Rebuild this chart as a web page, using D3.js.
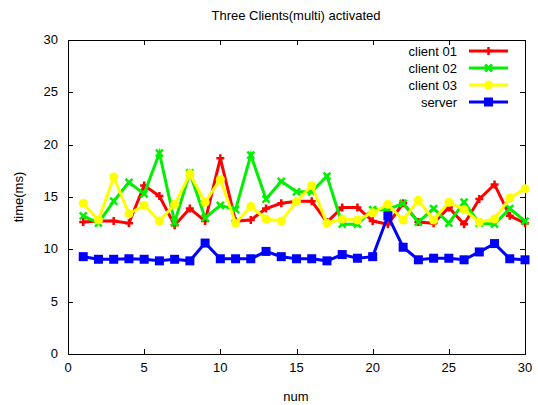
<!DOCTYPE html>
<html>
<head>
<meta charset="utf-8">
<script src="https://cdn.jsdelivr.net/npm/d3@7"></script>
<style>
  body { margin: 0; background: #fff; }
  text { font-family: "Liberation Sans", Arial, sans-serif; font-size: 13px; fill: #000; }
</style>
</head>
<body>
<svg id="chart" width="538" height="405"></svg>
<script>
// Values
const nums = d3.range(1, 31);
const client01 = [12.6, 12.7, 12.7, 12.5, 16.1, 15.1, 12.3, 13.9, 12.7, 18.7,
                  12.7, 12.8, 13.9, 14.4, 14.6, 14.6, 12.6, 14.0, 14.0, 12.7,
                  12.4, 14.4, 12.6, 12.5, 14.0, 12.4, 14.8, 16.2, 13.2, 12.5];
const client02 = [13.2, 12.5, 14.6, 16.4, 15.3, 19.2, 12.6, 17.3, 13.0, 14.2,
                  13.8, 19.0, 14.8, 16.5, 15.5, 15.5, 17.0, 12.4, 12.4, 13.8,
                  13.8, 14.4, 12.6, 13.9, 12.5, 14.5, 12.5, 12.4, 13.9, 12.7];
const client03 = [14.4, 12.8, 16.9, 13.4, 14.2, 12.7, 14.3, 17.2, 14.5, 16.7,
                  12.5, 14.1, 12.9, 12.7, 14.6, 16.1, 12.5, 12.9, 12.8, 13.5,
                  14.3, 12.8, 14.7, 12.8, 14.5, 13.8, 12.6, 12.9, 14.9, 15.8];
const server   = [9.3, 9.05, 9.05, 9.1, 9.05, 8.9, 9.05, 8.9, 10.6, 9.1,
                  9.1, 9.1, 9.8, 9.3, 9.1, 9.1, 8.9, 9.5, 9.15, 9.3,
                  13.2, 10.2, 9.0, 9.15, 9.15, 9.0, 9.75, 10.55, 9.1, 9.0];
const xTicks = [0, 5, 10, 15, 20, 25, 30];
const yTicks = [0, 5, 10, 15, 20, 25, 30];

const series = [
  { name: 'client 01', values: client01, color: '#ff0000', marker: 'plus' },
  { name: 'client 02', values: client02, color: '#00f000', marker: 'cross' },
  { name: 'client 03', values: client03, color: '#ffff00', marker: 'circle' },
  { name: 'server',    values: server,   color: '#0000ff', marker: 'square' }
];

const plotLeft = 68, plotRight = 525, plotTop = 40, plotBottom = 354;
const svg = d3.select('#chart');

const x = d3.scaleLinear().domain([0, 30]).range([plotLeft, plotRight]);
const y = d3.scaleLinear().domain([0, 30]).range([plotBottom, plotTop]);

// title and axis names
svg.append('text').attr('x', 296).attr('y', 20).attr('text-anchor', 'middle')
  .text('Three Clients(multi) activated');
svg.append('text').attr('x', 296).attr('y', 401).attr('text-anchor', 'middle').text('num');
svg.append('text').attr('transform', 'translate(23,197) rotate(-90)')
  .attr('text-anchor', 'middle').text('time(ms)');

// tick labels
svg.append('g').selectAll('text').data(xTicks).join('text')
  .attr('x', d => x(d)).attr('y', plotBottom + 18).attr('text-anchor', 'middle').text(d => d);
svg.append('g').selectAll('text').data(yTicks).join('text')
  .attr('x', plotLeft - 10).attr('y', d => y(d) + 4).attr('text-anchor', 'end').text(d => d);

// inward ticks on all four sides
const tl = 5;
const ticks = svg.append('g').attr('stroke', '#000').attr('stroke-width', 1);
xTicks.slice(1, -1).forEach(d => {
  const px = Math.round(x(d)) + 0.5;
  ticks.append('line').attr('x1', px).attr('x2', px).attr('y1', plotBottom).attr('y2', plotBottom - tl);
  ticks.append('line').attr('x1', px).attr('x2', px).attr('y1', plotTop).attr('y2', plotTop + tl);
});
yTicks.slice(1, -1).forEach(d => {
  const py = Math.round(y(d)) + 0.5;
  ticks.append('line').attr('x1', plotLeft).attr('x2', plotLeft + tl).attr('y1', py).attr('y2', py);
  ticks.append('line').attr('x1', plotRight).attr('x2', plotRight - tl).attr('y1', py).attr('y2', py);
});

// border
svg.append('rect').attr('x', plotLeft + 0.5).attr('y', plotTop + 0.5)
  .attr('width', plotRight - plotLeft).attr('height', plotBottom - plotTop)
  .attr('fill', 'none').attr('stroke', '#000').attr('stroke-width', 1);

// marker drawing
function drawMarker(g, type, color, cx, cy) {
  if (type === 'plus') {
    g.append('path').attr('d', `M${cx - 4},${cy}H${cx + 4}M${cx},${cy - 4}V${cy + 4}`)
      .attr('stroke', color).attr('stroke-width', 2.5).attr('fill', 'none');
  } else if (type === 'cross') {
    g.append('path').attr('d', `M${cx - 3.5},${cy - 3.5}L${cx + 3.5},${cy + 3.5}M${cx - 3.5},${cy + 3.5}L${cx + 3.5},${cy - 3.5}`)
      .attr('stroke', color).attr('stroke-width', 2.5).attr('fill', 'none');
  } else if (type === 'circle') {
    g.append('circle').attr('cx', cx).attr('cy', cy).attr('r', 4.5).attr('fill', color);
  } else {
    g.append('rect').attr('x', cx - 4.5).attr('y', cy - 4.5).attr('width', 9).attr('height', 9).attr('fill', color);
  }
}

const line = d3.line().x((d, i) => x(nums[i])).y(d => y(d));

series.forEach(s => {
  const g = svg.append('g');
  g.append('path').datum(s.values).attr('d', line)
    .attr('fill', 'none').attr('stroke', s.color).attr('stroke-width', 3)
    .attr('stroke-linejoin', 'miter');
  s.values.forEach((v, i) => drawMarker(g, s.marker, s.color, x(nums[i]), y(v)));
});

// legend
const legend = svg.append('g');
series.forEach((s, i) => {
  const ly = 51 + i * 17;
  legend.append('text').attr('x', 457).attr('y', ly + 4.5).attr('text-anchor', 'end').text(s.name);
  legend.append('line').attr('x1', 469).attr('x2', 508).attr('y1', ly).attr('y2', ly)
    .attr('stroke', s.color).attr('stroke-width', 3);
  drawMarker(legend, s.marker, s.color, 488.5, ly);
});
</script>
</body>
</html>
